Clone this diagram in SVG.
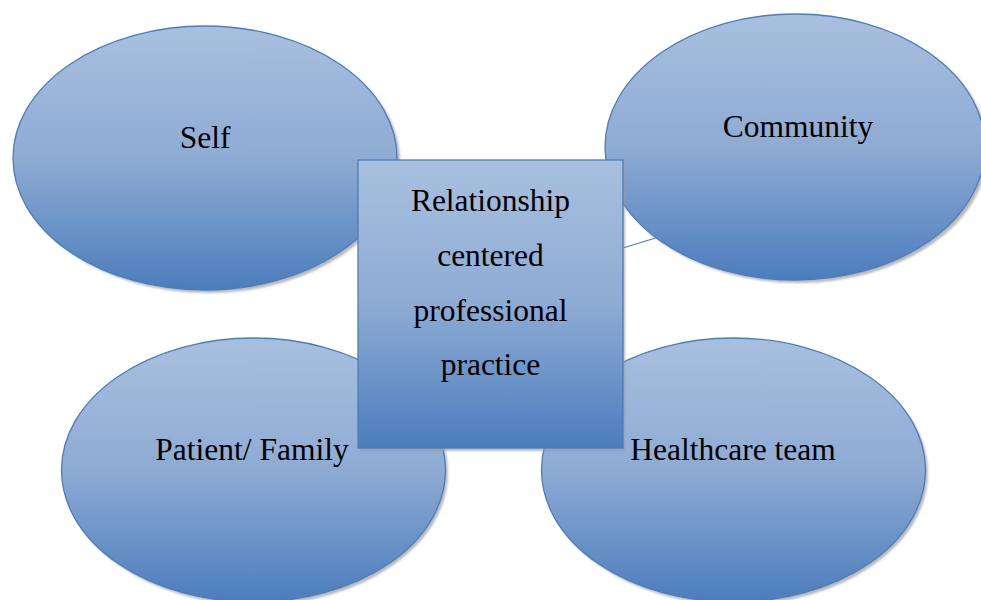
<svg xmlns="http://www.w3.org/2000/svg" width="981" height="600" viewBox="0 0 981 600">
  <defs>
    <linearGradient id="g" x1="0" y1="0" x2="0" y2="1">
      <stop offset="0" stop-color="#a8c0df"/>
      <stop offset="0.5" stop-color="#8eabd3"/>
      <stop offset="1" stop-color="#4b7dbd"/>
    </linearGradient>
    <filter id="blur" x="-5%" y="-5%" width="110%" height="110%">
      <feGaussianBlur stdDeviation="1"/>
    </filter>
  </defs>
  <style>
    .shape { fill: url(#g); stroke: #4a7ebb; stroke-width: 1.3; }
    .shadow { fill: #9c9c9c; opacity: 0.7; filter: url(#blur); }
    .lbl { font-family: "Liberation Serif", "Times New Roman", serif; font-size: 31.5px; fill: #000; text-anchor: middle; }
    .conn { stroke: #4a7ebb; stroke-width: 1.3; fill: none; }
  </style>
  <rect width="981" height="600" fill="#ffffff"/>

  <g id="connectors">
    <line class="conn" x1="623" y1="248" x2="662" y2="236"/>
  </g>

  <g id="self">
    <ellipse class="shadow" cx="208" cy="161" rx="192" ry="132"/>
    <ellipse class="shape" cx="205" cy="158" rx="192" ry="132"/>
    <text class="lbl" x="205" y="148">Self</text>
  </g>

  <g id="community">
    <ellipse class="shadow" cx="798" cy="150" rx="190" ry="133"/>
    <ellipse class="shape" cx="795" cy="147" rx="190" ry="133"/>
    <text class="lbl" x="798" y="137">Community</text>
  </g>

  <g id="patient-family">
    <ellipse class="shadow" cx="256" cy="473" rx="192" ry="132"/>
    <ellipse class="shape" cx="253.5" cy="470" rx="192" ry="132"/>
    <text class="lbl" x="252" y="460">Patient/ Family</text>
  </g>

  <g id="healthcare-team">
    <ellipse class="shadow" cx="736" cy="473" rx="192" ry="132"/>
    <ellipse class="shape" cx="733.5" cy="470" rx="192" ry="132"/>
    <text class="lbl" x="733" y="460">Healthcare team</text>
  </g>

  <g id="relationship-centered">
    <rect class="shadow" x="360" y="163" width="265" height="288"/>
    <rect class="shape" x="358" y="160" width="265" height="288"/>
    <text class="lbl" x="490.5" y="211">Relationship</text>
    <text class="lbl" x="490.5" y="266">centered</text>
    <text class="lbl" x="490.5" y="321">professional</text>
    <text class="lbl" x="490.5" y="375">practice</text>
  </g>
</svg>
